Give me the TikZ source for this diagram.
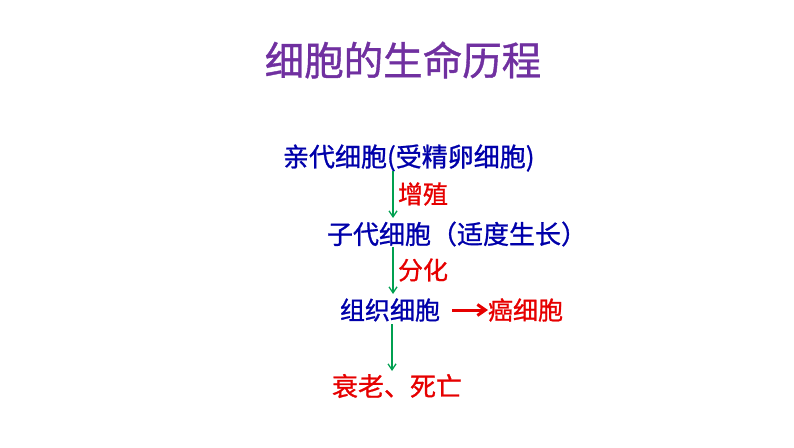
\documentclass[tikz,border=0pt]{standalone}
\usepackage{fontspec}
\setmainfont{Noto Sans CJK SC}[FakeBold=1]
\usetikzlibrary{arrows.meta}
\definecolor{titlepurple}{RGB}{112,48,160}
\definecolor{cellblue}{RGB}{0,0,170}
\definecolor{textred}{RGB}{230,0,0}
\definecolor{arrgreen}{RGB}{0,160,80}
\begin{document}
\begin{tikzpicture}[x=1pt,y=-1pt,
  every node/.style={inner sep=0pt,outer sep=0pt,anchor=west},
  cell/.style={text=cellblue,font=\fontsize{26}{30}\selectfont},
  lab/.style={text=textred,font=\fontsize{26}{30}\selectfont},
  small/.style={text=textred,font=\fontsize{25}{30}\selectfont},
  garrow/.style={draw=arrgreen,line width=1.3pt,-{Straight Barb[length=6pt,width=8pt]}},
  rarrow/.style={draw=textred,line width=3pt,-{Straight Barb[length=8pt,width=11pt]}}]
\useasboundingbox (0,0) rectangle (794,447);
\node[text=titlepurple,font=\fontsize{39.5}{46}\selectfont,anchor=center] (title) at (403,60) {细胞的生命历程};
\node[cell] (parent) at (283,158) {亲代细胞(受精卵细胞)};
\node[cell] (child) at (327,234) {子代细胞（适度生长）};
\node[cell,font=\fontsize{25}{30}\selectfont] (tissue) at (340,310) {组织细胞};
\node[lab,font=\fontsize{25}{30}\selectfont] (cancer) at (488,310) {癌细胞};
\node[lab] (death) at (332,386) {衰老、死亡};
\node[small] (prolif) at (398,194) {增殖};
\node[small] (diff) at (398,270) {分化};
\coordinate (a1s) at (393,171);
\coordinate (a1e) at (393,218);
\coordinate (a2s) at (393,247);
\coordinate (a2e) at (393,294);
\coordinate (a3s) at (392,324);
\coordinate (a3e) at (392,371);
\draw[garrow] (a1s) -- (a1e);
\draw[garrow] (a2s) -- (a2e);
\draw[garrow] (a3s) -- (a3e);
\draw[rarrow] (tissue.east) ++(12,0) -- (cancer.west);
\end{tikzpicture}
\end{document}
